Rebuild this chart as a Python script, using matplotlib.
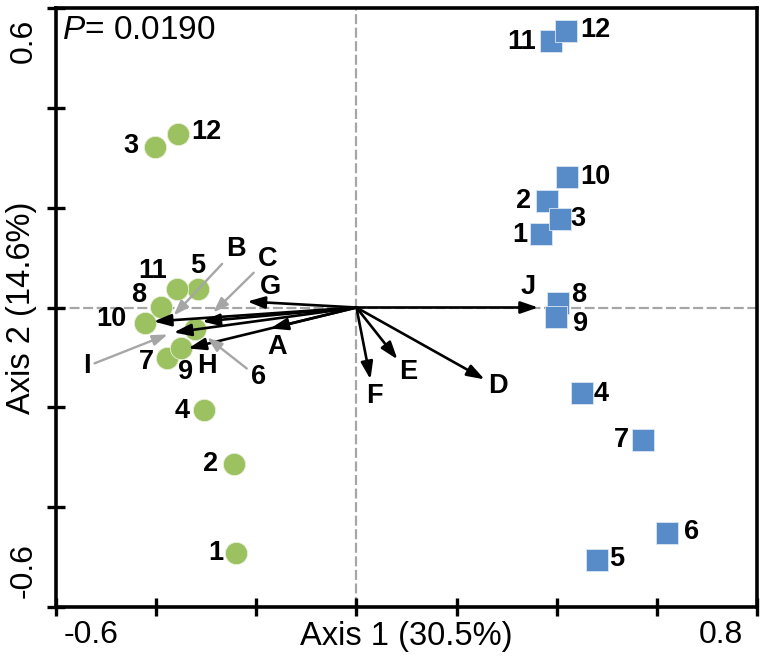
import matplotlib
matplotlib.use("Agg")
import matplotlib.pyplot as plt
import numpy as np
from matplotlib.transforms import ScaledTranslation, blended_transform_factory

plt.rcParams['font.family'] = ['Liberation Sans', 'DejaVu Sans']
plt.rcParams['mathtext.fontset'] = 'custom'
plt.rcParams['mathtext.rm'] = 'Liberation Sans'
plt.rcParams['mathtext.it'] = 'Liberation Sans:italic'

# ---------------- data ----------------
sample_ids = ['1', '2', '3', '4', '5', '6', '7', '8', '9', '10', '11', '12']
green_x = [-0.240, -0.244, -0.403, -0.304, -0.316, -0.322, -0.379, -0.391, -0.350, -0.423, -0.359, -0.356]
green_y = [-0.491, -0.313, 0.321, -0.206, 0.038, -0.044, -0.102, 0.002, -0.082, -0.032, 0.038, 0.347]
blue_x = [0.369, 0.381, 0.407, 0.451, 0.481, 0.621, 0.573, 0.403, 0.399, 0.421, 0.389, 0.419]
blue_y = [0.148, 0.214, 0.178, -0.172, -0.505, -0.451, -0.265, 0.010, -0.020, 0.261, 0.533, 0.553]

env_names = ['A', 'B', 'C', 'D', 'E', 'F', 'G', 'H', 'I', 'J']
env_x = [-0.172, -0.405, -0.308, 0.256, 0.082, 0.028, -0.218, -0.336, -0.365, 0.363]
env_y = [-0.042, -0.028, -0.028, -0.144, -0.104, -0.144, 0.012, -0.082, -0.050, 0.000]

x_ticks = [-0.6, -0.4, -0.2, 0.0, 0.2, 0.4, 0.6, 0.8]
y_ticks = [-0.6, -0.4, -0.2, 0.0, 0.2, 0.4, 0.6]
x_label = 'Axis 1 (30.5%)'
y_label = 'Axis 2 (14.6%)'
p_text = r'$\mathit{P}$= 0.0190'

# ---------------- layout (label offsets in pixels) ----------------
green_lab_off = [(-20, 0), (-24, 0), (-24, 1), (-22, -1), (-1, 23), None, (-20, -4),
                 (-22, 12), (4, -24), (-33, 4), (-24, 18), (28, 2)]
# point 6 uses a leader: (leader tip offset from point, label offset from leader tip)
green_leader = {5: ((12, -8), (51, -40))}
blue_lab_off = [(-21, -1), (-24, 0), (18, 0), (19, -1), (19, 1), (24, 1), (-22, 0),
                (20, 8), (24, -7), (28, 0), (-30, -1), (29, 1)]
env_lab_off = {'A': (7, -19), 'D': (13, -7), 'E': (11, -13), 'F': (4, -17),
               'G': (23, 15), 'H': (19, -18), 'J': (-10, 20)}
env_leader = {'B': ((20, 6), (62, 66)), 'C': ((11, 9), (54, 53)), 'I': ((-6, -2), (-81, -32))}

GREEN = '#9BC161'
BLUE = '#588CC8'
GRAY = '#A6A6A6'

fig = plt.figure(figsize=(7.66, 6.65), dpi=100)
ax = fig.add_axes([56 / 766, 58 / 665, 701 / 766, 599 / 665])
ax.set_xlim(-0.6, 0.8)
ax.set_ylim(-0.6, 0.6)


def off_trans(dx, dy):
    return ax.transData + ScaledTranslation(dx / 100.0, dy / 100.0, fig.dpi_scale_trans)


# dashed reference lines
ax.axhline(0, color=GRAY, lw=1.6, ls=(0, (4.5, 1.6)), zorder=1)
ax.axvline(0, color=GRAY, lw=1.6, ls=(0, (4.5, 1.6)), zorder=1)

# points
for i in range(len(sample_ids)):
    ax.plot(green_x[i], green_y[i], 'o', ms=16, mfc=GREEN, mec='#E8F0D8', mew=0.6, zorder=3)
for i in range(len(sample_ids)):
    ax.plot(blue_x[i], blue_y[i], 's', ms=15.6, mfc=BLUE, mec='#DCE6F2', mew=0.6, zorder=3)

leader_props = dict(arrowstyle='-|>,head_length=0.9,head_width=0.32',
                    color=GRAY, lw=1.7, shrinkA=1, shrinkB=0, mutation_scale=10)
lab_kw = dict(fontsize=19.5, fontweight='bold', ha='center', va='center', zorder=6)
for i, s in enumerate(sample_ids):
    if green_lab_off[i] is not None:
        ax.annotate(s, (green_x[i], green_y[i]), xytext=green_lab_off[i],
                    textcoords='offset pixels', **lab_kw)
    else:
        (lx, ly), (tx, ty) = green_leader[i]
        ax.annotate(s, (green_x[i], green_y[i]), xycoords=off_trans(lx, ly),
                    xytext=(tx, ty), textcoords='offset pixels',
                    arrowprops=leader_props, **lab_kw)
    ax.annotate(s, (blue_x[i], blue_y[i]), xytext=blue_lab_off[i],
                textcoords='offset pixels', **lab_kw)

# environmental vectors
for name, ex, ey in zip(env_names, env_x, env_y):
    ax.annotate('', xy=(ex, ey), xytext=(0, 0),
                arrowprops=dict(arrowstyle='-|>,head_length=1.05,head_width=0.36',
                                color='black', lw=1.9, shrinkA=0, shrinkB=0,
                                mutation_scale=10), zorder=5)
    if name in env_lab_off:
        ax.annotate(name, (ex, ey), xytext=env_lab_off[name],
                    textcoords='offset pixels', **lab_kw)
    else:
        (lx, ly), (tx, ty) = env_leader[name]
        ax.annotate(name, (ex, ey), xycoords=off_trans(lx, ly),
                    xytext=(tx, ty), textcoords='offset pixels',
                    arrowprops=leader_props, **lab_kw)

# spines and ticks
for sp in ax.spines.values():
    sp.set_linewidth(2.6)
ax.set_xticks(x_ticks)
ax.set_yticks(y_ticks)
ax.set_xticklabels([])
ax.set_yticklabels([])
ax.tick_params(direction='inout', length=13, width=2.4)

# end tick labels
tx_x = blended_transform_factory(ax.transData, ax.transAxes)
tx_y = blended_transform_factory(ax.transAxes, ax.transData)
ax.text(x_ticks[0], -0.047, '-0.6', transform=tx_x + ScaledTranslation(0.08, 0, fig.dpi_scale_trans),
        fontsize=23, ha='left', va='center')
ax.text(x_ticks[-1], -0.047, '0.8', transform=tx_x + ScaledTranslation(-0.14, 0, fig.dpi_scale_trans),
        fontsize=23, ha='right', va='center')
ax.text(-0.046, y_ticks[-1], '0.6', transform=tx_y + ScaledTranslation(0, -0.11, fig.dpi_scale_trans),
        fontsize=23, ha='center', va='top', rotation=90)
ax.text(-0.046, y_ticks[0], '-0.6', transform=tx_y + ScaledTranslation(0, 0.09, fig.dpi_scale_trans),
        fontsize=23, ha='center', va='bottom', rotation=90)

ax.text(0.5, -0.05, x_label, transform=ax.transAxes, fontsize=23.5, ha='center', va='center')
ax.text(-0.049, 0.5, y_label, transform=ax.transAxes, fontsize=23.5, ha='center', va='center',
        rotation=90)
ax.text(0.009, 0.962, p_text, transform=ax.transAxes, fontsize=24, ha='left', va='center')

fig.savefig('out.png', dpi=100)
